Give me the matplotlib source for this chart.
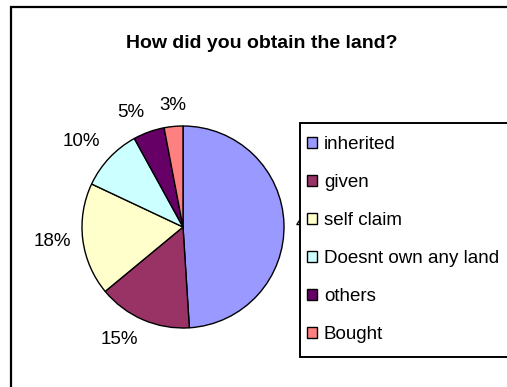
import matplotlib.pyplot as plt
from matplotlib.patches import Rectangle

plt.rcParams['font.family'] = ['Liberation Sans', 'DejaVu Sans']

# Survey answers: how the land was obtained (percent of respondents)
categories = ["inherited", "given", "self claim", "Doesnt own any land", "others", "Bought"]
shares = [49, 15, 18, 10, 5, 3]
colors = ["#9999FF", "#993366", "#FFFFCC", "#CCFFFF", "#660066", "#FF8080"]
pct_labels = [f"{v}%" for v in shares]

W, H = 507, 387
fig = plt.figure(figsize=(W / 100, H / 100), dpi=100)
ax = fig.add_axes([0, 0, 1, 1])

# work in pixel units, y measured upward
cx, cy, r = 183, H - 227, 101
ldist = 1.12
wedges, texts = ax.pie(
    shares,
    colors=colors,
    labels=pct_labels,
    labeldistance=ldist,
    startangle=90,
    counterclock=False,
    center=(cx, cy),
    radius=r,
    wedgeprops=dict(edgecolor="black", linewidth=1.0),
    textprops=dict(fontsize=13.5, color="black"),
)

# align labels so they sit outside the rim
for t in texts:
    x, y = t.get_position()
    dx = (x - cx) / (r * ldist)
    dy = (y - cy) / (r * ldist)
    if dx > 0.3:
        t.set_ha("left")
    elif dx < -0.3:
        t.set_ha("right")
    else:
        t.set_ha("center")
    if dy > 0.5:
        t.set_va("bottom")
    elif dy < -0.5:
        t.set_va("top")
    else:
        t.set_va("center")

ax.set_xlim(0, W)
ax.set_ylim(0, H)
ax.set_aspect("auto")
ax.axis("off")

# outer chart border
ax.add_patch(Rectangle((11, -10), W + 20, H - 7 + 10, fill=False,
                       edgecolor="black", linewidth=1.6, zorder=5))

ax.text(262, H - 43, "How did you obtain the land?", fontsize=14,
        fontweight="bold", ha="center", va="center")

# legend box sits over the right part of the pie labels
ax.add_patch(Rectangle((300, H - 357), 260, 234, facecolor="white",
                       edgecolor="black", linewidth=1.4, zorder=6))
leg = ax.legend(
    wedges, categories,
    loc="upper left",
    bbox_to_anchor=(307 / W, (H - 136) / H),
    bbox_transform=fig.transFigure,
    frameon=False,
    fontsize=13.5,
    handlelength=0.55,
    handleheight=0.55,
    handletextpad=0.35,
    labelspacing=1.12,
    borderpad=0,
    borderaxespad=0,
)
leg.set_zorder(7)
for h in leg.legend_handles:
    h.set_linewidth(1.0)

fig.savefig("out.png", dpi=100)
